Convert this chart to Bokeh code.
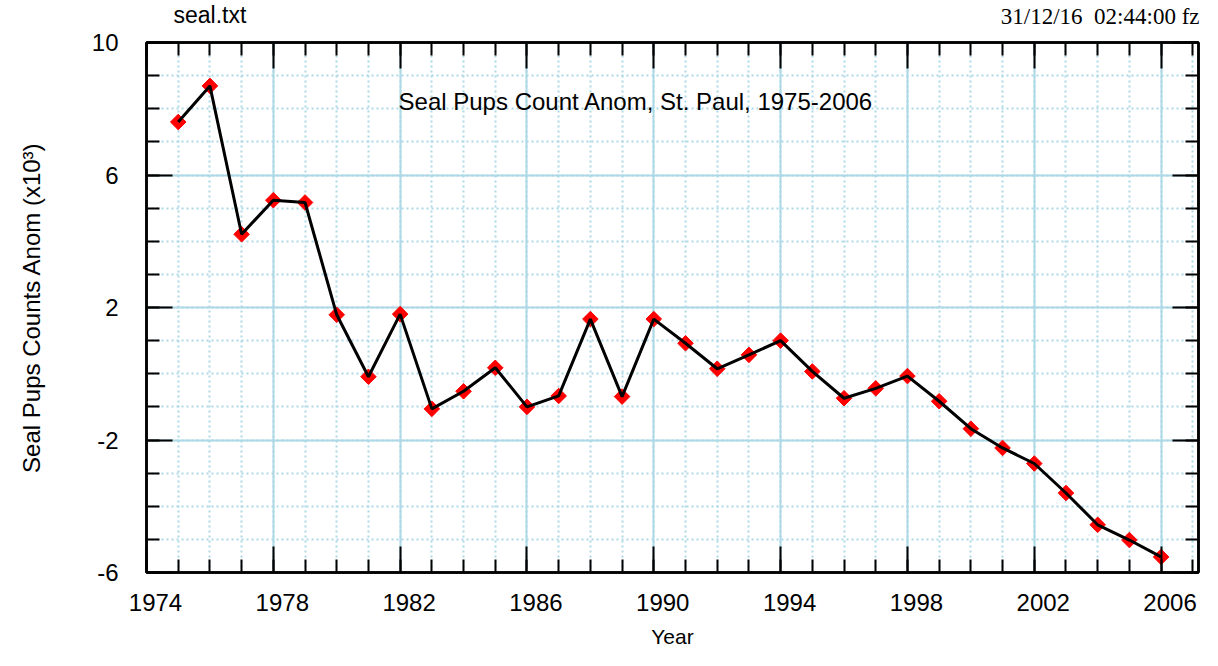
import math
from bokeh.plotting import figure
from bokeh.models import (Range1d, FixedTicker, LinearAxis, Label, Title,
                          CustomLabelingPolicy)
from bokeh.embed import file_html
from bokeh.resources import INLINE

# ---- data ----
years = list(range(1975, 2007))
anom = [7.60, 8.69, 4.21, 5.24, 5.17, 1.78, -0.09, 1.80, -1.06, -0.53,
        0.18, -1.00, -0.67, 1.65, -0.69, 1.65, 0.92, 0.15, 0.57, 1.00,
        0.07, -0.74, -0.44, -0.07, -0.83, -1.66, -2.24, -2.71, -3.60, -4.56,
        -5.02, -5.53]

x_major = list(range(1974, 2007, 4))
x_minor = list(range(1974, 2008))
x_labels = [str(v) for v in x_major]
y_major = [-6, -2, 2, 6, 10]
y_minor = list(range(-6, 11))
y_labels = ["-6", "-2", "2", "6", "10"]

title_text = "Seal Pups Count Anom, St. Paul, 1975-2006"
file_text = "seal.txt"
stamp_text = "31/12/16\u00a0\u00a002:44:00 fz"
x_title = "Year"
y_title = "Seal Pups Counts Anom (x10\u00b3)"

SANS = "Liberation Sans"
SERIF = "Liberation Serif"
GRID = "#add8e6"

X0, X1 = 1974, 2007.18
FRAME_W = 1202 - 146 - 2
LABEL_DX = 9 * (X1 - X0) / FRAME_W   # year labels sit ~9px right of their ticks

p = figure(width=1202, height=650,
           x_range=Range1d(X0, X1), y_range=Range1d(-6, 10),
           output_backend="svg", toolbar_location=None,
           min_border_left=146, min_border_right=2,
           min_border_top=42, min_border_bottom=77,
           x_axis_location=None, y_axis_location=None)
p.background_fill_color = "white"
p.border_fill_color = "white"
p.outline_line_color = "black"
p.outline_line_width = 2.5

xt = FixedTicker(ticks=x_major, minor_ticks=x_minor)
yt = FixedTicker(ticks=y_major, minor_ticks=y_minor)
label_pos = [v + LABEL_DX for v in x_major]
xlt = FixedTicker(ticks=label_pos, minor_ticks=[])

hide_all = CustomLabelingPolicy(code="""
for (const i of indices) { indices.unset(i) }
return indices
""")


def style_axis(ax, show_labels):
    ax.axis_line_color = "black"
    ax.axis_line_width = 2.5
    ax.major_tick_in = 26
    ax.major_tick_out = 0
    ax.minor_tick_in = 13
    ax.minor_tick_out = 0
    ax.major_tick_line_width = 2
    ax.minor_tick_line_width = 2
    ax.major_tick_line_color = "black"
    ax.minor_tick_line_color = "black"
    if show_labels:
        ax.major_label_text_font = SANS
        ax.major_label_text_font_size = "24px"
        ax.major_label_text_color = "black"
    else:
        ax.major_label_policy = hide_all
        ax.major_label_text_font_size = "1px"
        ax.major_label_standoff = 0


# bottom: tick axis (no labels) + label-only axis
bx = LinearAxis(ticker=xt)
style_axis(bx, False)
p.add_layout(bx, "below")

bl = LinearAxis(ticker=xlt, axis_label=x_title)
bl.axis_line_color = None
bl.major_tick_line_color = None
bl.minor_tick_line_color = None
bl.major_tick_in = 0
bl.major_tick_out = 0
bl.minor_tick_in = 0
bl.minor_tick_out = 0
bl.major_label_overrides = {v: s for v, s in zip(label_pos, x_labels)}
bl.major_label_text_font = SANS
bl.major_label_text_font_size = "24px"
bl.major_label_text_color = "black"
bl.major_label_standoff = 17
bl.axis_label_standoff = 11
bl.axis_label_text_font = SANS
bl.axis_label_text_font_size = "21px"
bl.axis_label_text_font_style = "normal"
bl.axis_label_text_color = "black"
p.add_layout(bl, "below")

ly = LinearAxis(ticker=yt, axis_label=y_title)
style_axis(ly, True)
ly.major_label_overrides = {v: s for v, s in zip(y_major, y_labels)}
ly.major_label_standoff = 28
ly.axis_label_standoff = 44
ly.axis_label_text_font = SANS
ly.axis_label_text_font_size = "24px"
ly.axis_label_text_font_style = "normal"
ly.axis_label_text_color = "black"
p.add_layout(ly, "left")

# top axis: ticks only; its (hidden) label standoff sets the header line height
tx = LinearAxis(ticker=xt)
style_axis(tx, False)
tx.major_label_standoff = 22
p.add_layout(tx, "above")

ry = LinearAxis(ticker=yt)
style_axis(ry, False)
p.add_layout(ry, "right")

# header texts: two zero-height title panels, both centred on the same line
p.title.text = file_text
p.title.align = "left"
p.title.vertical_align = "middle"
p.title.offset = 27
p.title.standoff = -27
p.title.text_font = SANS
p.title.text_font_size = "23px"
p.title.text_font_style = "normal"
p.title.text_color = "black"

stamp = Title(text=stamp_text, align="right", vertical_align="middle",
              offset=-1, standoff=-26, text_font=SERIF,
              text_font_size="23px", text_font_style="normal",
              text_color="black")
p.add_layout(stamp, "above")

# grids
p.xgrid.ticker = xt
p.ygrid.ticker = yt
for g in (p.xgrid, p.ygrid):
    g.grid_line_color = GRID
    g.grid_line_width = 2
    g.minor_grid_line_color = GRID
    g.minor_grid_line_width = 2
    g.minor_grid_line_dash = "2 3"

# data
p.scatter(years, anom, marker="square", angle=math.pi / 4, size=11,
          fill_color="red", line_color="red")
p.line(years, anom, line_color="black", line_width=3)

# in-plot title
p.add_layout(Label(x=1989.44, y=8.22, text=title_text, text_align="center",
                   text_baseline="middle", text_font=SANS,
                   text_font_size="24px", text_color="black"))

open("out.html", "w").write(file_html(p, INLINE))
